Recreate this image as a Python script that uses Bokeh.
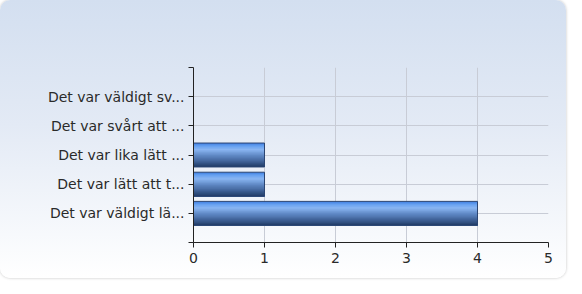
from bokeh.plotting import figure
from bokeh.models import FixedTicker, Range1d
from bokeh.embed import file_html
from bokeh.resources import INLINE

# Data (top to bottom as shown)
categories = [
    "Det var väldigt sv...",
    "Det var svårt att ...",
    "Det var lika lätt ...",
    "Det var lätt att t...",
    "Det var väldigt lä...",
]
values = [0, 0, 1, 1, 4]
x_ticks = [0, 1, 2, 3, 4, 5]

n = len(categories)
ypos = [n - i for i in range(n)]  # 5..1
bar_h = 0.82

p = figure(width=566, height=278, output_backend="svg", toolbar_location=None,
           x_range=Range1d(0, 5), y_range=Range1d(0, n + 1),
           min_border_left=193, min_border_right=18, min_border_top=67,
           min_border_bottom=36)
p.styles = {
    "background": "linear-gradient(180deg, #d3dff0 0%, #e3eaf5 45%, #ffffff 100%)",
    "border-radius": "10px",
    "box-shadow": "0 0 3px rgba(0,0,0,0.25)",
}
p.background_fill_alpha = 0
p.border_fill_alpha = 0
p.outline_line_color = None

# gradient stops for the glossy bars (top -> bottom)
stops = [(0.0, (0x3c, 0x7c, 0xe0)), (0.12, (0x66, 0xa0, 0xf0)), (0.28, (0x8a, 0xb6, 0xf2)),
         (0.5, (0x62, 0x8c, 0xc8)), (0.75, (0x42, 0x65, 0x9c)), (1.0, (0x20, 0x3a, 0x64))]

def col(t):
    for (t0, c0), (t1, c1) in zip(stops[:-1], stops[1:]):
        if t0 <= t <= t1:
            f = (t - t0) / (t1 - t0)
            return "#%02x%02x%02x" % tuple(int(round(a + (b - a) * f)) for a, b in zip(c0, c1))
    return "#%02x%02x%02x" % stops[-1][1]

# draw overlapping strips: each strip extends from its top edge to the bar bottom
N = 20
sh = bar_h / N
for k in range(N):
    t = (k + 0.5) / N
    hk = bar_h - k * sh
    ys = [y + bar_h / 2 - k * sh - hk / 2 for y in ypos]
    p.hbar(y=ys, right=values, left=0, height=hk, fill_color=col(t), line_color=None)

p.hbar(y=ypos, right=[v if v > 0 else float("nan") for v in values], left=0, height=bar_h,
       fill_alpha=0, line_color="#2b4572", line_width=1)

# axes
p.xaxis.ticker = FixedTicker(ticks=x_ticks)
p.yaxis.ticker = FixedTicker(ticks=[0] + ypos + [n + 1])
overrides = {y: c for y, c in zip(ypos, categories)}
overrides[0] = ""
overrides[n + 1] = ""
p.yaxis.major_label_overrides = overrides

for ax in (p.xaxis[0], p.yaxis[0]):
    ax.axis_line_color = "#222222"
    ax.major_tick_line_color = "#222222"
    ax.minor_tick_line_color = None
    ax.major_tick_in = 0
    ax.major_tick_out = 5
    ax.major_label_text_font = "DejaVu Sans"
    ax.major_label_text_font_size = "14px"
    ax.major_label_text_color = "#2a2a2a"
p.xaxis.major_label_standoff = 5
p.yaxis.major_label_standoff = 4

p.xgrid.ticker = FixedTicker(ticks=[1, 2, 3, 4, 5])
p.ygrid.ticker = FixedTicker(ticks=ypos + [n + 1])
p.xgrid.grid_line_color = "#c8ccd6"
p.ygrid.grid_line_color = "#c8ccd6"

open("out.html", "w").write(file_html(p, INLINE))
